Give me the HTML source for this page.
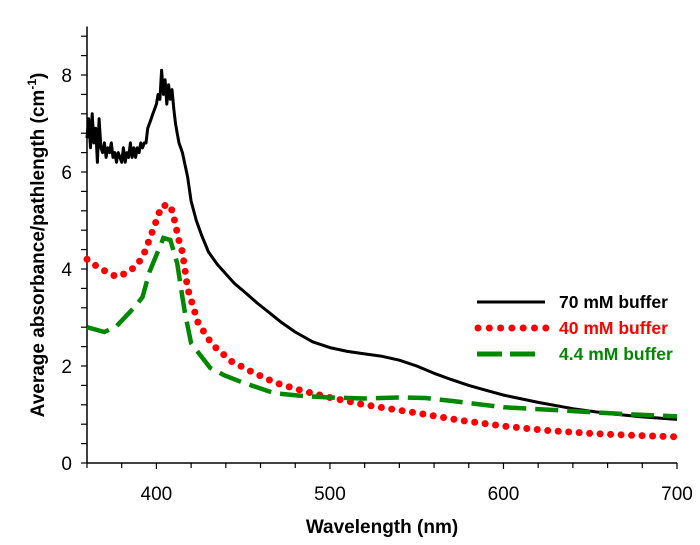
<!DOCTYPE html>
<html><head><meta charset="utf-8"><style>
body{margin:0;background:#fff;}
svg{display:block;font-family:"Liberation Sans",Arial,sans-serif;}
</style></head><body>
<svg id="chart" width="700" height="545" viewBox="0 0 700 545" xmlns="http://www.w3.org/2000/svg">
<g id="axes"></g>
<g id="series"></g>
<g>
  <line x1="477" y1="302" x2="545" y2="302" stroke="#000" stroke-width="3"/>
  <text x="559" y="308" font-size="17.5" font-weight="bold" fill="#000">70 mM buffer</text>
  <line x1="478" y1="328" x2="546" y2="328" stroke="#f00" stroke-width="7" stroke-linecap="round" stroke-dasharray="0 11.3"/>
  <text x="559" y="334" font-size="17.5" font-weight="bold" fill="#f00">40 mM buffer</text>
  <line x1="477" y1="354" x2="535" y2="354" stroke="#080" stroke-width="5" stroke-dasharray="25 8"/>
  <text x="559" y="360" font-size="17.5" font-weight="bold" fill="#080">4.4 mM buffer</text>
</g>
<text x="382" y="533" font-size="19" font-weight="bold" text-anchor="middle">Wavelength (nm)</text>
<text transform="translate(44,245) rotate(-90)" font-size="19" font-weight="bold" text-anchor="middle">Average absorbance/pathlength (cm<tspan font-size="12" dy="-8">-1</tspan><tspan dy="8">)</tspan></text>
</svg>
<script>
const xTicks=[400,500,600,700];
const yTicks=[0,2,4,6,8];
const wl70=[360,361,362,363,364,365,366,367,368,369,370,371,372,373,374,375,376,377,378,379,380,381,382,383,384,385,386,387,388,389,390,391,392,393,394,395,396,397,398,399,400,401,402,403,404,405,406,407,408,409,410,411,412,413,415,418,420,423,426,430,435,440,445,450,458,465,472,480,490,500,510,520,530,540,550,560,570,580,590,600,620,640,660,680,700];
const abs70=[6.7,7.1,6.5,7.2,6.6,6.9,6.2,7.1,6.5,6.4,6.6,6.3,6.5,6.4,6.6,6.3,6.4,6.2,6.4,6.3,6.2,6.5,6.2,6.4,6.3,6.6,6.3,6.5,6.3,6.5,6.4,6.6,6.5,6.6,6.6,6.9,7.0,7.1,7.2,7.3,7.4,7.6,7.5,8.1,7.6,7.9,7.4,7.8,7.5,7.7,7.3,7.0,6.8,6.6,6.4,5.9,5.4,5.0,4.7,4.35,4.1,3.9,3.7,3.55,3.3,3.1,2.9,2.7,2.5,2.38,2.3,2.25,2.2,2.12,2.0,1.85,1.72,1.6,1.5,1.4,1.25,1.12,1.02,0.95,0.9];
const wl40=[360,367,377,383,389,393,398,403,408,410,413,415,418,424,432,443,456,469,485,500,520,550,575,600,625,650,675,700];
const abs40=[4.2,4.02,3.84,3.92,4.08,4.33,4.8,5.3,5.32,5.07,4.58,4.35,3.6,2.89,2.45,2.1,1.86,1.65,1.48,1.35,1.2,1.03,0.88,0.76,0.67,0.61,0.57,0.54];
const wl4=[360,370,377,387,392,396,404,408,412,415,416.5,420,431,439,449,468,485,500,520,540,555,570,600,625,650,675,700];
const abs4=[2.8,2.7,2.82,3.2,3.42,3.94,4.64,4.6,4.12,3.42,3.09,2.47,1.96,1.81,1.67,1.44,1.38,1.35,1.33,1.35,1.34,1.28,1.15,1.1,1.05,1.0,0.96];
const X=v=>87+(v-360)*(590/340);
const Y=v=>463-v*48.5;
const NS='http://www.w3.org/2000/svg';
const axes=document.getElementById('axes');
function mk(tag,attrs,parent){const e=document.createElementNS(NS,tag);for(const k in attrs)e.setAttribute(k,attrs[k]);parent.appendChild(e);return e;}
let l=mk('line',{x1:87,y1:Y(0),x2:X(700),y2:Y(0),stroke:'#000','stroke-width':1.5},axes);


l=mk('line',{x1:87,y1:Y(0),x2:87,y2:Y(9),stroke:'#000','stroke-width':1.5},axes);


for(let v=360;v<=700;v+=20){const big=v%100===0;
 const t=mk('line',{x1:X(v),y1:Y(0),x2:X(v),y2:Y(0)+(big?6:5),stroke:'#000','stroke-width':1.2},axes);
 
 }
for(let i=0;i<=22;i++){const v=i*0.4;
 const t=mk('line',{x1:87,y1:Y(v),x2:81,y2:Y(v),stroke:'#000','stroke-width':1.2},axes);
 
 }
xTicks.forEach(v=>{const t=mk('text',{x:X(v),y:Y(0)+37,'font-size':19,'text-anchor':'middle'},axes);t.textContent=v;
 
 });
yTicks.forEach(v=>{const t=mk('text',{x:72,y:Y(v)+7,'font-size':19,'text-anchor':'end'},axes);t.textContent=v;
 
 });
const ser=document.getElementById('series');
function path(xs,ys){return xs.map((x,i)=>(i?'L':'M')+X(x).toFixed(1)+' '+Y(ys[i]).toFixed(1)).join(' ');}
let p=mk('path',{d:path(wl70,abs70),fill:'none',stroke:'#000','stroke-width':3,'stroke-linejoin':'round'},ser);


p=mk('path',{d:path(wl40,abs40),fill:'none',stroke:'#f00','stroke-width':7,'stroke-linecap':'round','stroke-dasharray':'0 10.5'},ser);


p=mk('path',{d:path(wl4,abs4),fill:'none',stroke:'#080','stroke-width':4.5,'stroke-dasharray':'23 9'},ser);


</script>
</body></html>
